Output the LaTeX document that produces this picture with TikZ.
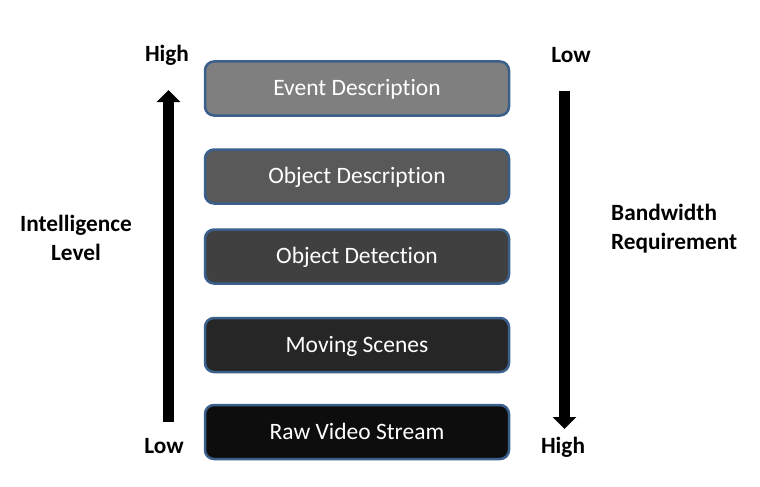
\documentclass[tikz,border=0pt]{standalone}
\usepackage{fontspec}
\setmainfont[Ligatures=NoCommon]{Carlito}
\usetikzlibrary{arrows.meta}
\definecolor{edgeblue}{HTML}{3A5F8B}
\begin{document}
\begin{tikzpicture}[x=1pt,y=-1pt,
  layerbox/.style={draw=edgeblue, line width=2.5pt, rounded corners=9pt,
    minimum width=304pt, minimum height=54pt, text=white,
    font=\fontsize{23.5}{28}\selectfont, text height=14.5pt, text depth=0pt, inner sep=0pt},
  sidelabel/.style={font=\bfseries\fontsize{23.3}{28.5}\selectfont, anchor=base, inner sep=0pt},
  bigarrow/.style={line width=11pt, -{Triangle[length=12pt,width=23pt]}}]
\useasboundingbox (0,0) rectangle (760,487);
\node[layerbox, fill={rgb,255:red,127;green,127;blue,127}] (ev) at (357,88.5) {Event Description};
\node[layerbox, fill={rgb,255:red,89;green,89;blue,89}] (od) at (357,176.5) {Object Description};
\node[layerbox, fill={rgb,255:red,64;green,64;blue,64}] (odt) at (357,256.5) {Object Detection};
\node[layerbox, fill={rgb,255:red,38;green,38;blue,38}] (ms) at (357,345) {Moving Scenes};
\node[layerbox, fill={rgb,255:red,13;green,13;blue,13}] (rv) at (357,432) {Raw Video Stream};
\node[sidelabel] (hl) at (167,62) {High};
\node[sidelabel] (ll) at (164,453.5) {Low};
\node[sidelabel] (lr) at (571,62.5) {Low};
\node[sidelabel] (hr) at (563,453.5) {High};
\node[sidelabel, align=center] (il) at (76,260) {Intelligence\\Level};
\node[sidelabel, align=left, anchor=base west] (br) at (611,249) {Bandwidth\\Requirement};
\coordinate (lb) at (168.5,422);
\coordinate (lt) at (168.5,90);
\coordinate (rt) at (564.5,91);
\coordinate (rb) at (564.5,429);
\draw[bigarrow] (lb) -- (lt);
\draw[bigarrow] (rt) -- (rb);
\end{tikzpicture}
\end{document}
